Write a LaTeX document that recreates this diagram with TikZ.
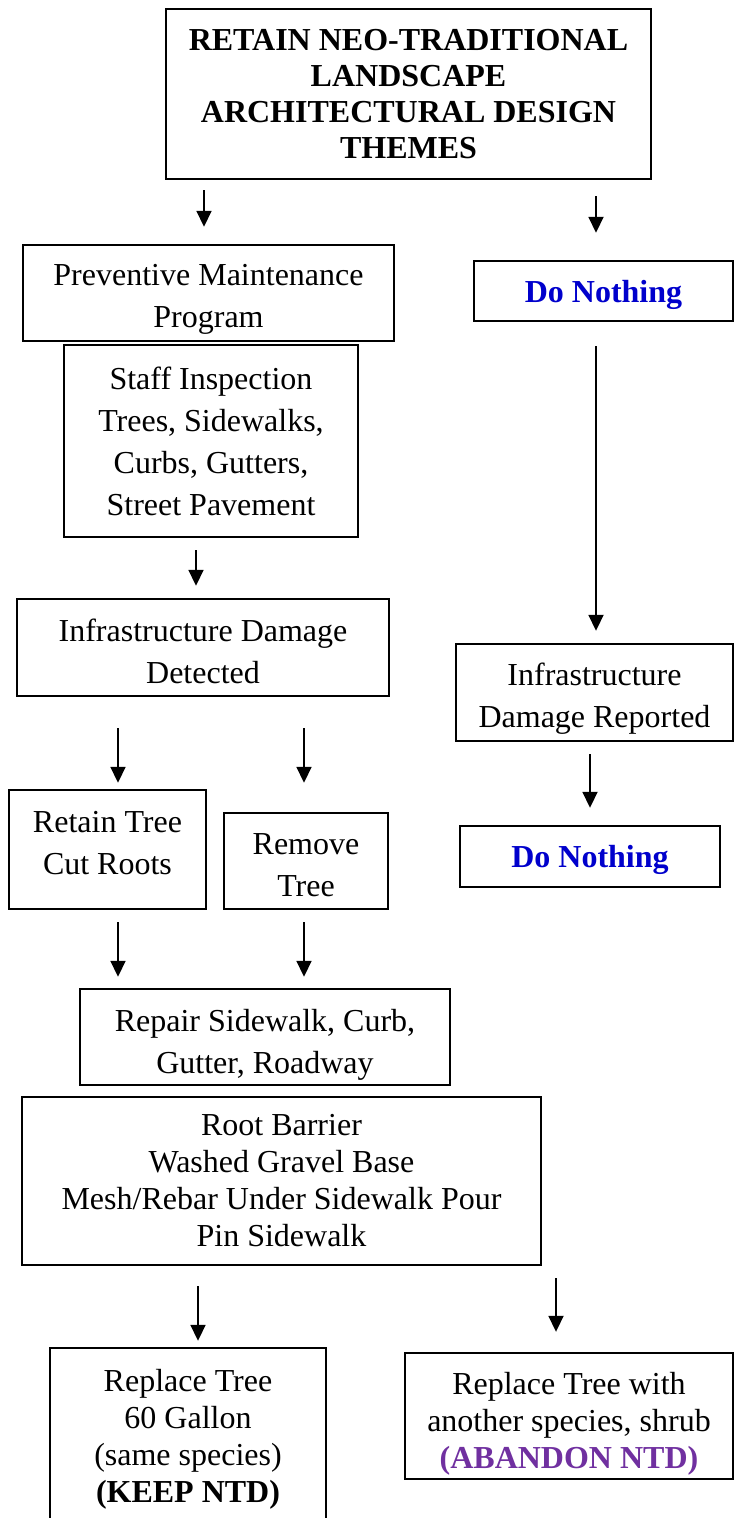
\documentclass[tikz,border=0pt]{standalone}
\usepackage{fontspec}
\setmainfont{Liberation Serif}
\usetikzlibrary{arrows.meta}
\definecolor{nothingblue}{RGB}{0,0,204}
\definecolor{ntdpurple}{RGB}{112,48,160}
% struts that push the text of a box down (topgap) or up (botgap)
\newcommand\topgap[1]{\rule{0pt}{#1}}
\newcommand\botgap[1]{\rule[-#1]{0pt}{0pt}}
\tikzset{
  box/.style={draw, line width=1.2pt, align=center, inner sep=0pt,
    font=\fontsize{16}{21}\selectfont},
  tightbox/.style={box, font=\fontsize{16}{18.5}\selectfont},
  titlebox/.style={box, font=\fontsize{16}{18}\selectfont\bfseries},
  nothingbox/.style={box, font=\fontsize{16}{21}\selectfont\bfseries,
    text=nothingblue},
  flow/.style={line width=0.9pt, -{Triangle[length=8pt,width=7.5pt]}},
}

\begin{document}
\begin{tikzpicture}[x=0.5pt,y=-0.5pt]
  \clip (0,0) rectangle (734,1518);
  % boxes (centres in pixels of the page)
  \node[titlebox, minimum width=242.5pt, minimum height=85pt] (title) at (408.5,94)
    {RETAIN NEO-TRADITIONAL\\LANDSCAPE\\ARCHITECTURAL DESIGN\\THEMES};
  \node[box, minimum width=185.5pt, minimum height=48pt] (prev) at (208.5,293)
    {\topgap{17pt}Preventive Maintenance\\Program};
  \node[nothingbox, minimum width=129.5pt, minimum height=30pt] (nothing1) at (603.5,291)
    {\topgap{15pt}Do Nothing};
  \node[box, minimum width=147pt, minimum height=96pt] (staff) at (211,441)
    {Staff Inspection\\Trees, Sidewalks,\\Curbs, Gutters,\\Street Pavement};
  \node[box, minimum width=186pt, minimum height=48.5pt] (detected) at (203,647.5)
    {\topgap{15pt}Infrastructure Damage\\Detected};
  \node[box, minimum width=138.5pt, minimum height=48.5pt] (reported) at (594.5,692.5)
    {\topgap{17pt}Infrastructure\\Damage Reported};
  \node[box, minimum width=98.5pt, minimum height=59.5pt] (retain) at (107.5,849.5)
    {Retain Tree\\Cut Roots\botgap{7pt}};
  \node[box, minimum width=82pt, minimum height=48pt] (remove) at (306,861)
    {\topgap{15pt}Remove\\Tree};
  \node[nothingbox, minimum width=130pt, minimum height=30.5pt] (nothing2) at (590,856.5)
    {\topgap{15pt}Do Nothing};
  \node[box, minimum width=185pt, minimum height=48pt] (repair) at (265,1037)
    {\topgap{19pt}Repair Sidewalk, Curb,\\Gutter, Roadway};
  \node[tightbox, minimum width=259.5pt, minimum height=84pt] (root) at (281.5,1181)
    {Root Barrier\\Washed Gravel Base\\Mesh/Rebar Under Sidewalk Pour\\Pin Sidewalk};
  \node[tightbox, minimum width=138pt, minimum height=91pt] (keep) at (188,1439)
    {Replace Tree\\60 Gallon\\(same species)\\\textbf{(KEEP NTD)}};
  \node[tightbox, minimum width=164pt, minimum height=63pt] (abandon) at (569,1416)
    {\topgap{19pt}Replace Tree with\\another species, shrub\\\textcolor{ntdpurple}{\textbf{(ABANDON NTD)}}};
  % arrows
  \draw[flow, shorten <=5pt, shorten >=8.5pt] (title.south -| 204,0) -- (prev.north -| 204,0);
  \draw[flow, shorten <=8pt, shorten >=13.5pt] (title.south -| 596,0) -- (nothing1.north -| 596,0);
  \draw[flow, shorten <=6pt, shorten >=6pt] (staff.south -| 196,0) -- (detected.north -| 196,0);
  \draw[flow, shorten <=12pt, shorten >=6pt] (nothing1.south -| 596,0) -- (reported.north -| 596,0);
  \draw[flow, shorten <=15.5pt, shorten >=3pt] (detected.south -| 118,0) -- (retain.north -| 118,0);
  \draw[flow, shorten <=15.5pt, shorten >=14.5pt] (detected.south -| 304,0) -- (remove.north -| 304,0);
  \draw[flow, shorten <=6pt, shorten >=8.5pt] (reported.south -| 590,0) -- (nothing2.north -| 590,0);
  \draw[flow, shorten <=6pt, shorten >=5.5pt] (retain.south -| 118,0) -- (repair.north -| 118,0);
  \draw[flow, shorten <=6pt, shorten >=5.5pt] (remove.south -| 304,0) -- (repair.north -| 304,0);
  \draw[flow, shorten <=10pt, shorten >=3pt] (root.south -| 198,0) -- (keep.north -| 198,0);
  \draw[flow, shorten <=6pt, shorten >=10pt] (root.south -| 556,0) -- (abandon.north -| 556,0);
\end{tikzpicture}
\end{document}
